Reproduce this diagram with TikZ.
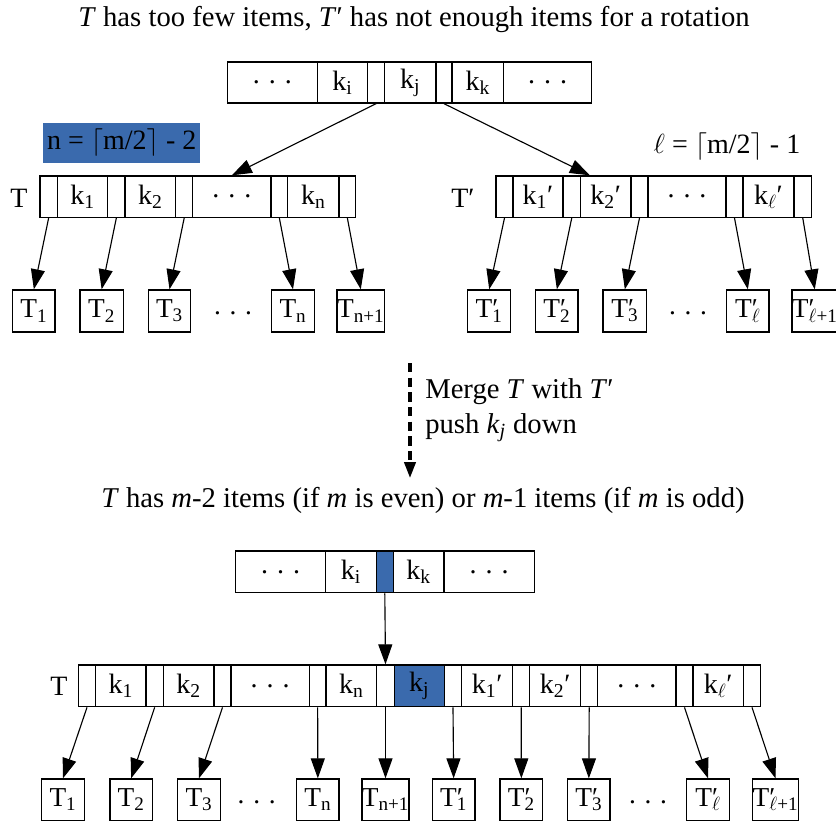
\documentclass[tikz,border=0pt]{standalone}
\usepackage{fontspec}
\setmainfont{Liberation Serif}
\usetikzlibrary{arrows.meta,calc}
\definecolor{hlblue}{RGB}{58,106,173}
\newcommand\mkcell[7]{%
  \node[#1,minimum width={(#4-#3)*0.75pt},minimum height={(#6-#5)*0.75pt}] (#2) at ({(#3+#4)/2},{(#5+#6)/2}) {#7};}
\newcommand\dts{.\hspace{0.32em}.\hspace{0.32em}.}
\newcommand\tpr[1]{T\rlap{′}\textsubscript{#1}}
\begin{document}
\begin{tikzpicture}[x=0.75pt,y=-0.75pt,
  cellbox/.style={draw,line width=1pt,inner sep=0pt,font=\fontsize{21}{24}\selectfont},
  bluecell/.style={cellbox,fill=hlblue},
  childbox/.style={draw,line width=1pt,inner sep=0pt,font=\fontsize{20.5}{24}\selectfont},
  ptrarrow/.style={line width=0.85pt,-{Triangle[length=15pt,width=10.5pt]}},
  dasharrow/.style={line width=2.4pt,dash pattern=on 7pt off 4pt,-{Triangle[length=12pt,width=8.5pt]}},
  lbl/.style={inner sep=0pt,font=\fontsize{21}{25}\selectfont},
  dotlbl/.style={inner sep=0pt,font=\fontsize{20.5}{24}\selectfont},
  big/.style={inner sep=0pt,font=\fontsize{21.5}{26}\selectfont}]
\fill[white] (0,0) rectangle (836,824);
\useasboundingbox (0,0) rectangle (836,824);

% titles
\node[big,anchor=base] (title) at (414,27) {\textit{T} has too few items, \textit{T}′ has not enough items for a rotation};
\node[big,anchor=base] (btitle) at (423,507) {\textit{T} has \textit{m}-2 items (if \textit{m} is even) or \textit{m}-1 items (if \textit{m} is odd)};

% top node
\def\ya{62}\def\yb{103}
\mkcell{cellbox}{td1}{227.6}{317.2}{\ya}{\yb}{\dts}
\mkcell{cellbox}{tki}{317.2}{367.8}{\ya}{\yb}{k\textsubscript{i}}
\mkcell{cellbox}{tg1}{367.8}{384.5}{\ya}{\yb}{}
\mkcell{cellbox}{tkj}{384.5}{436}{\ya}{\yb}{k\textsubscript{j}}
\mkcell{cellbox}{tg2}{436}{452}{\ya}{\yb}{}
\mkcell{cellbox}{tkk}{452}{503.7}{\ya}{\yb}{k\textsubscript{k}}
\mkcell{cellbox}{td2}{503.7}{591.7}{\ya}{\yb}{\dts}

% labels
\node[lbl,fill=hlblue,minimum width=117.5pt,minimum height=29.5pt] (nlab) at (121.7,143) {n = $\lceil$m/2$\rceil$ - 2};
\node[lbl,anchor=base] (llab) at (727,153) {$\ell$ = $\lceil$m/2$\rceil$ - 1};
\node[lbl] (lT) at (19,198) {T};
\node[lbl] (rT) at (463,198) {T′};

% left T
\def\ya{176}\def\yb{217.3}
\mkcell{cellbox}{lp0}{40}{57.3}{\ya}{\yb}{}
\mkcell{cellbox}{lk1}{57.3}{107.7}{\ya}{\yb}{k\textsubscript{1}}
\mkcell{cellbox}{lp1}{107.7}{125}{\ya}{\yb}{}
\mkcell{cellbox}{lk2}{125}{175.7}{\ya}{\yb}{k\textsubscript{2}}
\mkcell{cellbox}{lp2}{175.7}{192.7}{\ya}{\yb}{}
\mkcell{cellbox}{ldt}{192.7}{271}{\ya}{\yb}{\dts}
\mkcell{cellbox}{lp3}{271}{287.7}{\ya}{\yb}{}
\mkcell{cellbox}{lkn}{287.7}{339}{\ya}{\yb}{k\textsubscript{n}}
\mkcell{cellbox}{lp4}{339}{355.7}{\ya}{\yb}{}

% right T'
\mkcell{cellbox}{rp0}{496}{513}{\ya}{\yb}{}
\mkcell{cellbox}{rk1}{513}{563}{\ya}{\yb}{k\textsubscript{1}′}
\mkcell{cellbox}{rp1}{563}{580.5}{\ya}{\yb}{}
\mkcell{cellbox}{rk2}{580.5}{631}{\ya}{\yb}{k\textsubscript{2}′}
\mkcell{cellbox}{rp2}{631}{648}{\ya}{\yb}{}
\mkcell{cellbox}{rdt}{648}{726}{\ya}{\yb}{\dts}
\mkcell{cellbox}{rp3}{726}{743}{\ya}{\yb}{}
\mkcell{cellbox}{rkl}{743}{794}{\ya}{\yb}{k\textsubscript{$\ell$}′}
\mkcell{cellbox}{rp4}{794}{811.5}{\ya}{\yb}{}

% top children
\def\ya{290}\def\yb{332}
\mkcell{childbox}{lc1}{12.7}{55}{\ya}{\yb}{T\textsubscript{1}}
\mkcell{childbox}{lc2}{80}{123.3}{\ya}{\yb}{T\textsubscript{2}}
\mkcell{childbox}{lc3}{148.3}{190.7}{\ya}{\yb}{T\textsubscript{3}}
\node[dotlbl] (lcd) at (233,313) {\dts};
\mkcell{childbox}{lcn}{271.7}{314.3}{\ya}{\yb}{T\textsubscript{n}}
\mkcell{childbox}{lcm}{339.3}{382.3}{\ya}{\yb}{T\textsubscript{n+1}}
\mkcell{childbox}{rc1}{467.7}{510.7}{\ya}{\yb}{\tpr{1}}
\mkcell{childbox}{rc2}{535.7}{578}{\ya}{\yb}{\tpr{2}}
\mkcell{childbox}{rc3}{603}{646.7}{\ya}{\yb}{\tpr{3}}
\node[dotlbl] (rcd) at (688,313) {\dts};
\mkcell{childbox}{rcl}{726.7}{769}{\ya}{\yb}{\tpr{$\ell$}}
\mkcell{childbox}{rcm}{794}{835.5}{\ya}{\yb}{\tpr{$\ell$+1}}

% top arrows
\draw[ptrarrow] (tg1.south) -- (ldt.north);
\coordinate (rtip) at ($(rk2.north west)+(10,0)$);
\draw[ptrarrow] (tg2.south) -- (rtip);
\foreach \p/\c in {lp0/lc1,lp1/lc2,lp2/lc3,lp3/lcn,lp4/lcm,rp0/rc1,rp1/rc2,rp2/rc3,rp3/rcl,rp4/rcm}
  \draw[ptrarrow] (\p.south) -- (\c.north);

% merge step
\coordinate (da) at (410,363);
\coordinate (db) at (410,478);
\draw[dasharrow] (da) -- (db);
\node[big,anchor=base west] (mg1) at (425,398) {Merge \textit{T} with \textit{T}′};
\node[big,anchor=base west] (mg2) at (425,433) {push \textit{k}\textsubscript{\textit{j}} down};

% bottom top node
\def\ya{551}\def\yb{592.7}
\mkcell{cellbox}{bd1}{235.7}{325.7}{\ya}{\yb}{\dts}
\mkcell{cellbox}{bki}{325.7}{376.3}{\ya}{\yb}{k\textsubscript{i}}
\mkcell{bluecell}{bbl}{376.3}{393.3}{\ya}{\yb}{}
\mkcell{cellbox}{bkk}{393.3}{444}{\ya}{\yb}{k\textsubscript{k}}
\mkcell{cellbox}{bd2}{444}{534.3}{\ya}{\yb}{\dts}

% merged node
\node[lbl] (mT) at (59,686) {T};
\def\ya{665}\def\yb{706.7}
\mkcell{cellbox}{mp0}{78.3}{95.7}{\ya}{\yb}{}
\mkcell{cellbox}{mk1}{95.7}{146}{\ya}{\yb}{k\textsubscript{1}}
\mkcell{cellbox}{mp1}{146}{163.3}{\ya}{\yb}{}
\mkcell{cellbox}{mk2}{163.3}{214}{\ya}{\yb}{k\textsubscript{2}}
\mkcell{cellbox}{mp2}{214}{231}{\ya}{\yb}{}
\mkcell{cellbox}{mdt}{231}{309.3}{\ya}{\yb}{\dts}
\mkcell{cellbox}{mp3}{309.3}{326}{\ya}{\yb}{}
\mkcell{cellbox}{mkn}{326}{376.7}{\ya}{\yb}{k\textsubscript{n}}
\mkcell{cellbox}{mp4}{376.7}{394.3}{\ya}{\yb}{}
\mkcell{bluecell}{mkj}{394.3}{444.3}{\ya}{\yb}{k\textsubscript{j}}
\mkcell{cellbox}{mp5}{444.3}{461.7}{\ya}{\yb}{}
\mkcell{cellbox}{mq1}{461.7}{512.7}{\ya}{\yb}{k\textsubscript{1}′}
\mkcell{cellbox}{mp6}{512.7}{529.7}{\ya}{\yb}{}
\mkcell{cellbox}{mq2}{529.7}{580.7}{\ya}{\yb}{k\textsubscript{2}′}
\mkcell{cellbox}{mp7}{580.7}{597.7}{\ya}{\yb}{}
\mkcell{cellbox}{mdu}{597.7}{676}{\ya}{\yb}{\dts}
\mkcell{cellbox}{mp8}{676}{693}{\ya}{\yb}{}
\mkcell{cellbox}{mql}{693}{743.3}{\ya}{\yb}{k\textsubscript{$\ell$}′}
\mkcell{cellbox}{mp9}{743.3}{760.7}{\ya}{\yb}{}

\draw[ptrarrow] (bbl.south) -- (mp4.north);

% bottom children
\def\ya{779}\def\yb{820.7}
\mkcell{childbox}{mc1}{41.7}{84.3}{\ya}{\yb}{T\textsubscript{1}}
\mkcell{childbox}{mc2}{110}{152.3}{\ya}{\yb}{T\textsubscript{2}}
\mkcell{childbox}{mc3}{177.3}{220.7}{\ya}{\yb}{T\textsubscript{3}}
\node[dotlbl] (mcd) at (256.7,802) {\dts};
\mkcell{childbox}{mcn}{296.7}{339}{\ya}{\yb}{T\textsubscript{n}}
\mkcell{childbox}{mcm}{364.3}{406.7}{\ya}{\yb}{T\textsubscript{n+1}}
\mkcell{childbox}{md1}{432.3}{475}{\ya}{\yb}{\tpr{1}}
\mkcell{childbox}{md2}{500}{542.7}{\ya}{\yb}{\tpr{2}}
\mkcell{childbox}{md3}{567.7}{610}{\ya}{\yb}{\tpr{3}}
\node[dotlbl] (mdd) at (648,802) {\dts};
\mkcell{childbox}{mdl}{686.7}{729.3}{\ya}{\yb}{\tpr{$\ell$}}
\mkcell{childbox}{mdm}{754.3}{796.7}{\ya}{\yb}{\tpr{$\ell$+1}}

\foreach \p/\c in {mp0/mc1,mp1/mc2,mp2/mc3,mp3/mcn,mp4/mcm,mp5/md1,mp6/md2,mp7/md3,mp8/mdl,mp9/mdm}
  \draw[ptrarrow] (\p.south) -- (\c.north);
\end{tikzpicture}
\end{document}
